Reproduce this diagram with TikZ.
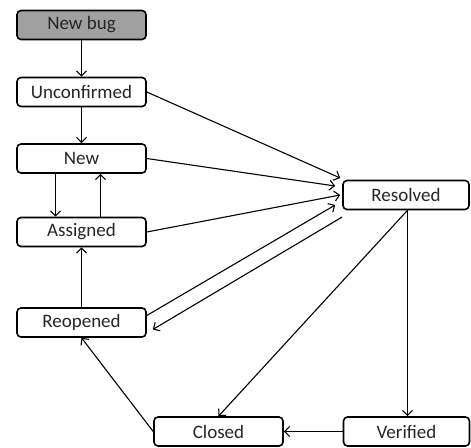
\documentclass[tikz,border=0pt]{standalone}
\usepackage{fontspec}
\setmainfont{Carlito}
\usetikzlibrary{arrows.meta,calc}
\definecolor{bugfill}{RGB}{160,160,160}
\begin{document}
\begin{tikzpicture}[x=1pt,y=-1pt,
  state/.style={draw=black,line width=1.6pt,rounded corners=4pt,minimum width=129pt,minimum height=29pt,inner sep=0pt,fill=white,text=black!85,font=\fontsize{19}{21}\selectfont},
  rstate/.style={state,minimum width=126pt},
  conn/.style={line width=1.1pt,-{Straight Barb[length=5pt,width=10pt,line width=1.1pt]}}]
\useasboundingbox (0,0) rectangle (471,447);
\node[state,fill=bugfill] (bug) at (81.5,25) {New bug};
\node[state] (unc) at (81.5,92) {Unconfirmed};
\node[state] (new) at (81.5,158.5) {New};
\node[state] (asg) at (81.5,232) {Assigned};
\node[state] (reo) at (81.5,322.5) {Reopened};
\node[rstate] (res) at (406,195) {Resolved};
\node[state] (clo) at (218.5,431.5) {Closed};
\node[rstate] (ver) at (406.5,431.5) {Verified};
\draw[conn] (bug.south) -- (unc.north);
\draw[conn] (unc.south) -- (new.north);
\draw[conn] ($(new.south)+(-26,0)$) -- ($(asg.north)+(-26,0)$);
\draw[conn] ($(asg.north)+(19,0)$) -- ($(new.south)+(19,0)$);
\draw[conn] (reo.north) -- (asg.south);
\draw[conn] (unc.east) -- ($(res.west)+(-2,-17)$);
\draw[conn] (new.east) -- ($(res.west)+(-7,-9)$);
\draw[conn] (asg.east) -- ($(res.west)+(-2,0)$);
\draw[conn] ($(reo.east)+(0,-7)$) -- ($(res.west)+(-7,10)$);
\draw[conn] ($(res.west)+(0,22)$) -- ($(reo.east)+(6,7)$);
\draw[conn] ($(res.south)+(1.5,0)$) -- (clo.north);
\draw[conn] ($(res.south)+(1.5,0)$) -- ($(ver.north)+(1,0)$);
\draw[conn] (ver.west) -- (clo.east);
\draw[conn] (clo.west) -- (reo.south);
\end{tikzpicture}
\end{document}
